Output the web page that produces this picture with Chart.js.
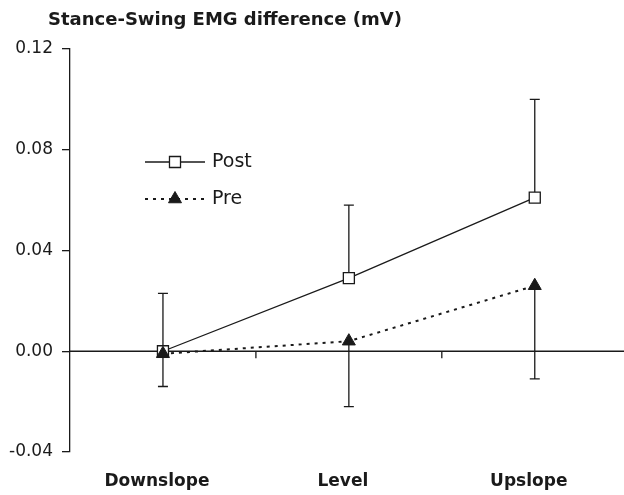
<!DOCTYPE html>
<html>
  <head>
    <title>Stance-Swing EMG difference</title>
    <meta name="viewport" content="width=device-width, initial-scale=1" />
    <script src="https://cdn.jsdelivr.net/npm/chart.js"></script>
    <style>
      html, body { margin: 0; padding: 0; background: #fff; overflow: hidden; }
      .wrap { position: relative; width: 624px; height: 495px; }
      .title {
        position: absolute; left: 48px; top: 8px; line-height: 22px;
        font: bold 18px "DejaVu Sans", sans-serif; color: #1a1a1a; white-space: nowrap;
      }
    </style>
  </head>
  <body>
    <div class="wrap">
      <div class="title">Stance-Swing EMG difference (mV)</div>
      <canvas id="emgChart" width="624" height="495"></canvas>
    </div>
    <script>
      // 数据
      const categories = ['Downslope', 'Level', 'Upslope'];
      const postMean = [0.000, 0.029, 0.061];
      const postErrUp = [0.023, 0.058, 0.100];   // upper end of Post error bar
      const preMean = [-0.001, 0.004, 0.026];
      const preErrDown = [-0.014, -0.022, -0.011]; // lower end of Pre error bar
      const yTicks = [-0.04, 0.00, 0.04, 0.08, 0.12];

      const ink = '#1a1a1a';
      const font = '"DejaVu Sans", sans-serif';

      // 误差线 + 零线 + 图例
      const extras = {
        id: 'extras',
        beforeDatasetsDraw(chart) {
          const ctx = chart.ctx;
          const x = chart.scales.x, y = chart.scales.y;
          const area = chart.chartArea;
          ctx.save();
          ctx.strokeStyle = ink;
          ctx.lineWidth = 1.3;
          // zero line
          const y0 = y.getPixelForValue(0);
          ctx.beginPath();
          ctx.moveTo(area.left, y0);
          ctx.lineTo(area.right, y0);
          // ticks between categories
          for (let i = 0; i < categories.length - 1; i++) {
            const px = x.getPixelForValue(i + 0.5);
            ctx.moveTo(px, y0);
            ctx.lineTo(px, y0 + 7);
          }
          ctx.stroke();
          // error bars
          const cap = 5;
          const bar = (i, from, to) => {
            const px = x.getPixelForValue(i);
            const a = y.getPixelForValue(from), b = y.getPixelForValue(to);
            ctx.beginPath();
            ctx.moveTo(px, a); ctx.lineTo(px, b);
            ctx.moveTo(px - cap, b); ctx.lineTo(px + cap, b);
            ctx.stroke();
          };
          categories.forEach((c, i) => {
            bar(i, postMean[i], postErrUp[i]);
            bar(i, preMean[i], preErrDown[i]);
          });
          ctx.restore();
        },
        afterDraw(chart) {
          const ctx = chart.ctx;
          const sets = chart.data.datasets;
          const lx = 145, ly = 162, gap = 37, len = 60;
          ctx.save();
          sets.forEach((ds, k) => {
            const yy = ly + k * gap;
            ctx.strokeStyle = ink;
            ctx.lineWidth = ds.borderWidth;
            ctx.setLineDash(ds.borderDash || []);
            ctx.beginPath();
            ctx.moveTo(lx, yy); ctx.lineTo(lx + len, yy);
            ctx.stroke();
            ctx.setLineDash([]);
            ctx.lineWidth = ds.pointBorderWidth;
            ctx.fillStyle = ds.pointBackgroundColor;
            Chart.helpers.drawPoint(ctx, {
              pointStyle: ds.pointStyle, radius: ds.pointRadius, rotation: 0, borderWidth: ds.pointBorderWidth
            }, lx + len / 2, yy);
            ctx.fillStyle = ink;
            ctx.font = '19px ' + font;
            ctx.textBaseline = 'middle';
            ctx.fillText(ds.label, lx + len + 7, yy);
          });
          ctx.restore();
        }
      };

      const ctx = document.getElementById('emgChart').getContext('2d');
      new Chart(ctx, {
        type: 'line',
        data: {
          datasets: [{
            label: 'Post',
            data: postMean.map((v, i) => ({ x: i, y: v })),
            borderColor: ink,
            borderWidth: 1.3,
            pointStyle: 'rect',
            pointRadius: 7.8,
            pointBackgroundColor: '#fff',
            pointBorderColor: ink,
            pointBorderWidth: 1.3,
            order: 2
          }, {
            label: 'Pre',
            data: preMean.map((v, i) => ({ x: i, y: v })),
            borderColor: ink,
            borderWidth: 2,
            borderDash: [3, 5],
            pointStyle: 'triangle',
            pointRadius: 7.5,
            pointBackgroundColor: ink,
            pointBorderColor: ink,
            pointBorderWidth: 1,
            order: 1
          }]
        },
        options: {
          responsive: false,
          animation: false,
          layout: { autoPadding: false, padding: { top: 49, right: 0, bottom: 0, left: 0 } },
          plugins: { legend: { display: false }, tooltip: { enabled: false } },
          scales: {
            x: {
              type: 'linear',
              min: -0.5,
              max: 2.48,
              grid: { display: false },
              border: { display: false },
              afterBuildTicks(scale) { scale.ticks = categories.map((c, i) => ({ value: i })); },
              afterFit(scale) {
                scale.height = 43;
                scale.paddingLeft = 0;
                scale.paddingRight = 0;
              },
              ticks: {
                padding: 11,
                labelOffset: -6,
                color: ink,
                maxRotation: 0,
                font: { family: font, size: 17, weight: 'bold' },
                callback: v => categories[v]
              }
            },
            y: {
              min: -0.04,
              max: 0.12,
              afterBuildTicks(scale) { scale.ticks = yTicks.map(v => ({ value: v })); },
              afterFit(scale) { scale.width = 70; },
              grid: { drawOnChartArea: false, tickLength: 8, color: ink, lineWidth: 1.3 },
              border: { color: ink, width: 1.3 },
              ticks: {
                padding: 9,
                color: ink,
                font: { family: font, size: 17 },
                callback: v => v.toFixed(2)
              }
            }
          }
        },
        plugins: [extras]
      });
    </script>
  </body>
</html>
